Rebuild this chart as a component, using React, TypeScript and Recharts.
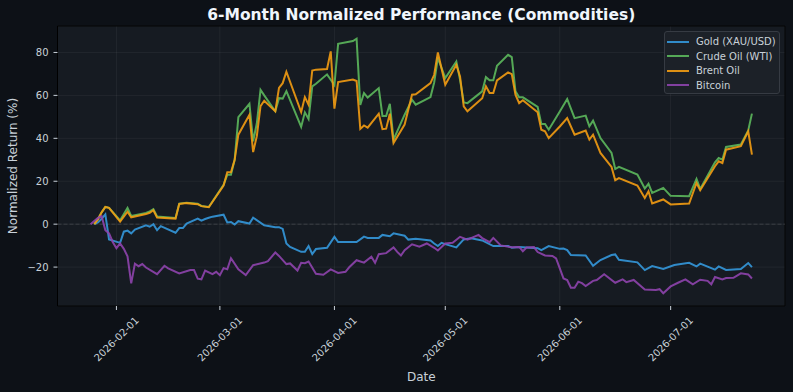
import { LineChart, Line, XAxis, YAxis, CartesianGrid, ReferenceLine, ReferenceArea } from 'recharts';

// Trading days for the two oil benchmarks (shared calendar)
const oilDates = [
  '2026-01-26', '2026-01-27', '2026-01-28', '2026-01-29', '2026-01-30', '2026-02-02', '2026-02-04', '2026-02-05',
  '2026-02-09', '2026-02-10', '2026-02-11', '2026-02-12', '2026-02-17', '2026-02-18', '2026-02-20', '2026-02-23',
  '2026-02-24', '2026-02-26', '2026-03-02', '2026-03-03', '2026-03-04', '2026-03-05', '2026-03-06', '2026-03-09',
  '2026-03-10', '2026-03-11', '2026-03-12', '2026-03-13', '2026-03-16', '2026-03-17', '2026-03-18', '2026-03-19',
  '2026-03-23', '2026-03-24', '2026-03-25', '2026-03-26', '2026-03-27', '2026-03-30', '2026-03-31', '2026-04-01',
  '2026-04-02', '2026-04-06', '2026-04-07', '2026-04-08', '2026-04-09', '2026-04-10', '2026-04-13', '2026-04-14',
  '2026-04-15', '2026-04-16', '2026-04-17', '2026-04-20', '2026-04-22', '2026-04-23', '2026-04-27', '2026-04-28',
  '2026-04-29', '2026-05-01', '2026-05-04', '2026-05-05', '2026-05-06', '2026-05-07', '2026-05-11', '2026-05-12',
  '2026-05-13', '2026-05-14', '2026-05-15', '2026-05-18', '2026-05-19', '2026-05-20', '2026-05-21', '2026-05-22',
  '2026-05-26', '2026-05-27', '2026-05-28', '2026-05-29', '2026-06-01', '2026-06-03', '2026-06-05', '2026-06-08',
  '2026-06-09', '2026-06-10', '2026-06-12', '2026-06-15', '2026-06-16', '2026-06-17', '2026-06-22', '2026-06-24',
  '2026-06-25', '2026-06-26', '2026-06-29', '2026-07-01', '2026-07-06', '2026-07-08', '2026-07-09', '2026-07-13',
  '2026-07-14', '2026-07-15', '2026-07-16', '2026-07-20', '2026-07-22', '2026-07-23',
];

const wtiValues = [
  0, 2.5, 5.5, 8.0, 7.6, 1.8, 7.6, 3.8,
  5.2, 6.0, 7.0, 3.6, 2.9, 9.6, 10.0, 9.5,
  8.5, 8.0, 18.3, 23.0, 23.0, 30.0, 49.9, 56.1,
  38.6, 47.0, 62.6, 60.0, 52.6, 58.7, 58.5, 62.0,
  45.3, 52.1, 49.0, 64.2, 65.4, 69.8, 67.3, 64.8,
  84.0, 85.3, 86.4, 55.5, 61.1, 59.0, 63.4, 50.4,
  50.4, 56.1, 39.4, 51.0, 58.0, 55.7, 59.2, 66.0,
  77.5, 68.1, 75.8, 67.3, 56.7, 56.4, 61.9, 68.5,
  67.0, 67.0, 73.8, 78.9, 77.8, 61.9, 59.1, 59.1,
  54.6, 46.7, 46.7, 44.0, 52.5, 58.3, 49.4, 50.6,
  45.6, 48.2, 40.1, 33.2, 25.7, 26.7, 23.1, 16.6,
  18.8, 14.6, 16.9, 13.2, 13.0, 21.1, 16.4, 28.8,
  30.8, 30.1, 36.0, 37.1, 43.7, 51.5,
];

const brentValues = [
  0, 2.2, 5.5, 8.0, 7.6, 1.2, 5.8, 3.2,
  4.7, 5.3, 6.5, 3.1, 2.6, 9.4, 9.8, 9.3,
  8.4, 7.9, 18.0, 24.2, 24.2, 30.0, 41.7, 51.0,
  33.6, 41.0, 55.0, 57.5, 52.6, 63.5, 65.7, 71.0,
  52.2, 59.2, 55.7, 71.6, 72.0, 72.3, 80.5, 53.8,
  66.2, 67.4, 66.7, 44.4, 46.0, 45.0, 51.5, 44.3,
  44.5, 51.5, 37.8, 46.4, 60.3, 60.5, 65.7, 69.6,
  80.0, 65.0, 74.3, 68.8, 54.9, 52.6, 58.7, 64.2,
  61.1, 61.1, 67.0, 70.7, 69.9, 60.3, 56.4, 57.7,
  52.1, 44.0, 43.3, 40.1, 45.5, 49.4, 41.7, 43.6,
  39.4, 41.7, 33.2, 26.7, 20.5, 21.5, 18.0, 12.2,
  15.3, 9.6, 11.5, 9.2, 9.6, 19.2, 15.8, 27.0,
  29.3, 28.5, 34.7, 36.3, 43.3, 32.4,
];

const goldDates = [
  '2026-01-26', '2026-01-27', '2026-01-28', '2026-01-29', '2026-01-30', '2026-02-02', '2026-02-03', '2026-02-04',
  '2026-02-05', '2026-02-06', '2026-02-09', '2026-02-10', '2026-02-11', '2026-02-12', '2026-02-13', '2026-02-17',
  '2026-02-18', '2026-02-19', '2026-02-20', '2026-02-23', '2026-02-24', '2026-02-25', '2026-02-26', '2026-02-27',
  '2026-03-02', '2026-03-03', '2026-03-04', '2026-03-05', '2026-03-06', '2026-03-09', '2026-03-10', '2026-03-13',
  '2026-03-16', '2026-03-17', '2026-03-18', '2026-03-19', '2026-03-20', '2026-03-23', '2026-03-24', '2026-03-25',
  '2026-03-26', '2026-03-27', '2026-03-30', '2026-04-01', '2026-04-02', '2026-04-07', '2026-04-09', '2026-04-10',
  '2026-04-13', '2026-04-14', '2026-04-16', '2026-04-17', '2026-04-20', '2026-04-21', '2026-04-23', '2026-04-27',
  '2026-04-28', '2026-04-29', '2026-04-30', '2026-05-01', '2026-05-04', '2026-05-06', '2026-05-08', '2026-05-11',
  '2026-05-14', '2026-05-18', '2026-05-19', '2026-05-21', '2026-05-26', '2026-05-27', '2026-05-29', '2026-06-01',
  '2026-06-02', '2026-06-03', '2026-06-04', '2026-06-08', '2026-06-10', '2026-06-12', '2026-06-15', '2026-06-16',
  '2026-06-17', '2026-06-22', '2026-06-24', '2026-06-26', '2026-06-29', '2026-07-02', '2026-07-06', '2026-07-08',
  '2026-07-09', '2026-07-13', '2026-07-14', '2026-07-16', '2026-07-20', '2026-07-22', '2026-07-23',
];

const goldValues = [
  0, 0.8, 2.5, 4.6, -7.1, -8.7, -3.5, -3.0,
  -4.3, -2.5, -0.5, -1.2, 0.0, -2.8, -0.9, -4.0,
  -1.8, -1.8, 0.3, 2.6, 1.6, 2.4, 3.0, 3.5,
  4.4, 0.8, 1.0, -0.2, 1.4, 0.3, 3.0, -0.5,
  -1.4, -1.4, -2.2, -9.0, -10.6, -12.9, -12.9, -10.2,
  -13.9, -11.6, -11.0, -5.9, -8.3, -8.3, -5.8, -6.4,
  -6.4, -5.0, -5.6, -4.3, -5.4, -7.2, -6.8, -7.6,
  -9.0, -10.2, -8.7, -9.3, -10.8, -7.1, -6.6, -7.6,
  -10.2, -10.2, -11.0, -10.6, -11.2, -12.1, -10.2, -11.5,
  -11.4, -12.1, -14.4, -14.6, -19.4, -16.7, -14.4, -14.1,
  -16.6, -17.8, -21.4, -19.5, -20.9, -19.0, -18.0, -19.7,
  -18.4, -21.2, -19.7, -21.3, -20.9, -18.1, -20.0,
];

// Bitcoin trades every day, weekends included
const btcDates = [
  '2026-01-25', '2026-01-26', '2026-01-27', '2026-01-28', '2026-01-29', '2026-01-30', '2026-01-31', '2026-02-01',
  '2026-02-02', '2026-02-03', '2026-02-04', '2026-02-05', '2026-02-06', '2026-02-07', '2026-02-08', '2026-02-09',
  '2026-02-12', '2026-02-14', '2026-02-15', '2026-02-18', '2026-02-21', '2026-02-22', '2026-02-23', '2026-02-24',
  '2026-02-25', '2026-02-27', '2026-02-28', '2026-03-01', '2026-03-02', '2026-03-03', '2026-03-04', '2026-03-06',
  '2026-03-08', '2026-03-10', '2026-03-13', '2026-03-14', '2026-03-16', '2026-03-17', '2026-03-19', '2026-03-20',
  '2026-03-22', '2026-03-23', '2026-03-24', '2026-03-25', '2026-03-27', '2026-03-29', '2026-03-31', '2026-04-02',
  '2026-04-04', '2026-04-05', '2026-04-07', '2026-04-09', '2026-04-11', '2026-04-12', '2026-04-13', '2026-04-15',
  '2026-04-17', '2026-04-18', '2026-04-19', '2026-04-20', '2026-04-22', '2026-04-24', '2026-04-26', '2026-04-28',
  '2026-04-29', '2026-05-01', '2026-05-03', '2026-05-05', '2026-05-07', '2026-05-10', '2026-05-11', '2026-05-13',
  '2026-05-14', '2026-05-16', '2026-05-19', '2026-05-21', '2026-05-22', '2026-05-23', '2026-05-25', '2026-05-26',
  '2026-05-28', '2026-05-30', '2026-05-31', '2026-06-02', '2026-06-03', '2026-06-04', '2026-06-05', '2026-06-06',
  '2026-06-07', '2026-06-08', '2026-06-10', '2026-06-11', '2026-06-13', '2026-06-16', '2026-06-18', '2026-06-19',
  '2026-06-21', '2026-06-24', '2026-06-27', '2026-06-28', '2026-06-29', '2026-07-01', '2026-07-03', '2026-07-05',
  '2026-07-07', '2026-07-09', '2026-07-11', '2026-07-12', '2026-07-13', '2026-07-15', '2026-07-16', '2026-07-18',
  '2026-07-20', '2026-07-22', '2026-07-23',
];

const btcValues = [
  0, 1.5, 2.9, 3.7, -2.8, -4.3, -8.3, -11.2,
  -9.0, -11.5, -15.0, -27.6, -18.4, -19.6, -18.6, -20.2,
  -23.3, -19.4, -20.6, -23.0, -21.4, -21.4, -25.4, -25.7,
  -21.6, -23.3, -22.2, -23.8, -20.5, -21.0, -15.9, -21.0,
  -23.7, -19.1, -17.9, -17.2, -13.2, -14.8, -18.6, -18.3,
  -21.6, -18.0, -18.2, -17.4, -23.1, -23.6, -21.1, -22.7,
  -22.2, -20.1, -16.8, -17.9, -15.2, -18.0, -14.0, -13.5,
  -10.8, -12.9, -14.6, -12.1, -9.4, -10.5, -9.0, -11.0,
  -12.3, -9.0, -8.7, -5.9, -7.2, -5.0, -6.5, -8.4,
  -6.4, -9.9, -10.8, -10.6, -12.6, -10.9, -10.7, -13.0,
  -14.6, -14.8, -16.0, -25.3, -26.0, -29.6, -29.6, -26.8,
  -27.5, -28.8, -26.4, -26.0, -23.3, -27.3, -25.7, -27.0,
  -26.0, -30.4, -30.7, -30.3, -32.2, -29.0, -27.3, -25.7,
  -28.0, -25.9, -26.4, -28.0, -24.6, -25.8, -25.1, -25.0,
  -22.9, -23.4, -25.3,
];

const monthTicks = ['2026-02-01', '2026-03-01', '2026-04-01', '2026-05-01', '2026-06-01', '2026-07-01'];
const yTicks = [-20, 0, 20, 40, 60, 80];

const series = [
  { name: 'Gold (XAU/USD)', color: '#3498db', dates: goldDates, values: goldValues },
  { name: 'Crude Oil (WTI)', color: '#5cb85c', dates: oilDates, values: wtiValues },
  { name: 'Brent Oil', color: '#f39c12', dates: oilDates, values: brentValues },
  { name: 'Bitcoin', color: '#8e44ad', dates: btcDates, values: btcValues },
];

const FONT = '"DejaVu Sans", sans-serif';
const TEXT = '#c9d1d9';

const toPoints = (dates: string[], values: number[]) =>
  dates.map((d, i) => ({ t: Date.parse(d), v: values[i] }));

const lines = series.map((s) => ({ ...s, points: toPoints(s.dates, s.values) }));

// 5% margins on both axes, like matplotlib's autoscale
const allT = lines.flatMap((s) => s.points.map((p) => p.t));
const allV = lines.flatMap((s) => s.points.map((p) => p.v));
const tMin = Math.min(...allT);
const tMax = Math.max(...allT);
const vMin = Math.min(...allV);
const vMax = Math.max(...allV);
const xDomain: [number, number] = [tMin - (tMax - tMin) * 0.05, tMax + (tMax - tMin) * 0.05];
const yDomain: [number, number] = [vMin - (vMax - vMin) * 0.05, vMax + (vMax - vMin) * 0.05];

const fmtDate = (t: number) => new Date(t).toISOString().slice(0, 10);
const fmtY = (v: number) => (v < 0 ? `\u2212${Math.abs(v)}` : `${v}`);

function DateTick({ x, y, payload }: any) {
  const cy = y + 29;
  return (
    <text
      x={x}
      y={cy}
      transform={`rotate(-45 ${x} ${cy})`}
      textAnchor="middle"
      dominantBaseline="central"
      fill={TEXT}
      fontSize={10}
      fontFamily={FONT}
    >
      {fmtDate(payload.value)}
    </text>
  );
}

export default function App() {
  return (
    <div style={{ position: 'absolute', left: 0, top: 0, width: 793, height: 392, background: '#0d1117', fontFamily: FONT }}>
      <div
        style={{
          position: 'absolute', left: 57.5, top: 4, width: 727.5, textAlign: 'center',
          color: '#f0f6fc', fontSize: 15.5, fontWeight: 'bold', lineHeight: '22px',
        }}
      >
        6-Month Normalized Performance (Commodities)
      </div>

      <LineChart width={793} height={392} margin={{ top: 26, right: 8, bottom: 0, left: 0 }}>
        <CartesianGrid stroke="#ffffff" strokeOpacity={0.05} fill="#161b22" />
        <XAxis
          dataKey="t"
          type="number"
          domain={xDomain}
          allowDataOverflow
          ticks={monthTicks.map((d) => Date.parse(d))}
          interval={0}
          height={86}
          axisLine={false}
          tickLine={{ stroke: TEXT }}
          tickSize={4}
          tickMargin={0}
          tick={<DateTick />}
          label={({ viewBox }: any) => (
            <text
              x={viewBox.x + viewBox.width / 2}
              y={377}
              textAnchor="middle"
              dominantBaseline="central"
              fill={TEXT}
              fontSize={12}
              fontFamily={FONT}
            >
              Date
            </text>
          )}
        />
        <YAxis
          type="number"
          domain={yDomain}
          allowDataOverflow
          ticks={yTicks}
          interval={0}
          width={57.5}
          axisLine={false}
          tickLine={{ stroke: TEXT }}
          tickSize={4}
          tickMargin={5}
          tickFormatter={fmtY}
          tick={{ fill: TEXT, fontSize: 10, fontFamily: FONT }}
          label={({ viewBox }: any) => {
            const cy = viewBox.y + viewBox.height / 2;
            return (
              <text
                x={13}
                y={cy}
                transform={`rotate(-90 13 ${cy})`}
                textAnchor="middle"
                dominantBaseline="central"
                fill={TEXT}
                fontSize={12}
                fontFamily={FONT}
              >
                Normalized Return (%)
              </text>
            );
          }}
        />
        <ReferenceLine y={0} stroke="#ffffff" strokeOpacity={0.14} strokeDasharray="4 2" />
        {lines.map((s) => (
          <Line
            key={s.name}
            data={s.points}
            dataKey="v"
            name={s.name}
            type="linear"
            stroke={s.color}
            strokeOpacity={0.9}
            strokeWidth={2}
            dot={false}
            activeDot={false}
            isAnimationActive={false}
          />
        ))}
        <ReferenceArea
          x1={xDomain[0]}
          x2={xDomain[1]}
          y1={yDomain[0]}
          y2={yDomain[1]}
          fill="none"
          stroke="#000000"
          strokeWidth={1}
          ifOverflow="visible"
        />
      </LineChart>

      <div
        style={{
          position: 'absolute', left: 664, top: 31, width: 116, height: 63, boxSizing: 'border-box',
          background: '#1c2128', border: '1px solid #363b43', borderRadius: 3,
        }}
      >
        {series.map((s, i) => (
          <div key={s.name} style={{ position: 'absolute', left: 0, top: 2.5 + i * 14.5, height: 14, display: 'flex', alignItems: 'center' }}>
            <div style={{ marginLeft: 2, width: 22, height: 2, background: s.color, opacity: 0.9 }} />
            <span style={{ marginLeft: 7, color: TEXT, fontSize: 10, whiteSpace: 'nowrap' }}>{s.name}</span>
          </div>
        ))}
      </div>
    </div>
  );
}
